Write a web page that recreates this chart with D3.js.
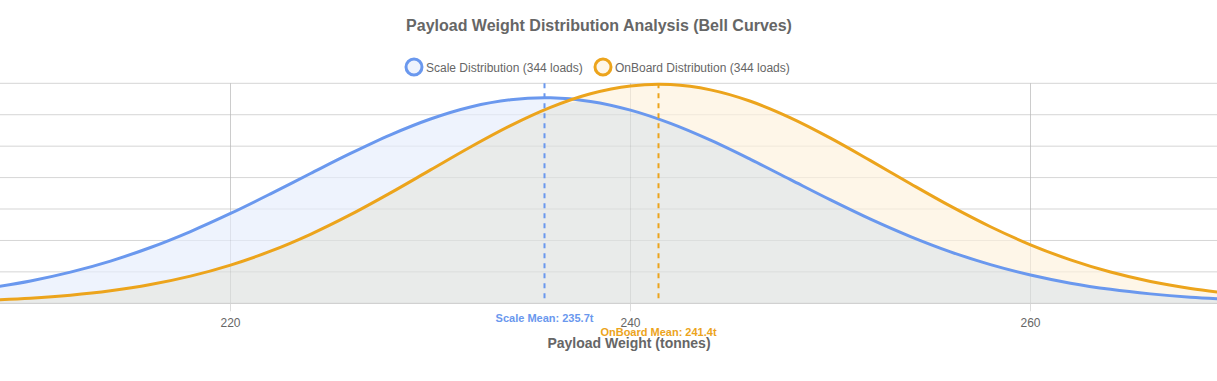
<!DOCTYPE html>
<html lang="en">
<head>
  <meta charset="utf-8">
  <title>Payload Weight Distribution Analysis</title>
  <script src="https://d3js.org/d3.v7.min.js"></script>
  <style>
    body { margin: 0; background: #fff; }
    svg { display: block; font-family: "Helvetica Neue", Helvetica, Arial, "Liberation Sans", sans-serif; }
  </style>
</head>
<body>
  <svg id="chart" width="1217" height="381"></svg>
  <script>
    // payload weight (tonnes) sample points
    var weights = [208, 210, 212, 214, 216, 218, 220, 222, 224, 226, 228, 230, 232, 234, 236, 238,
                   240, 242, 244, 246, 248, 250, 252, 254, 256, 258, 260, 262, 264, 266, 268, 270];
    // density
    var scaleDensity = [0.00248, 0.00356, 0.00496, 0.00672, 0.00888, 0.01142, 0.01429, 0.01741,
                        0.02065, 0.02384, 0.02680, 0.02932, 0.03123, 0.03238, 0.03269, 0.03212,
                        0.03073, 0.02862, 0.02595, 0.02290, 0.01967, 0.01645, 0.01339, 0.01062,
                        0.00819, 0.00615, 0.00450, 0.00320, 0.00222, 0.00150, 0.00098, 0.00063];
    var onboardDensity = [0.00050, 0.00081, 0.00129, 0.00199, 0.00298, 0.00432, 0.00608, 0.00829,
                          0.01098, 0.01410, 0.01757, 0.02122, 0.02487, 0.02827, 0.03117, 0.03334,
                          0.03458, 0.03479, 0.03395, 0.03214, 0.02951, 0.02628, 0.02270, 0.01902,
                          0.01545, 0.01218, 0.00931, 0.00691, 0.00497, 0.00347, 0.00235, 0.00154];
    var seriesNames = ["Scale Distribution (344 loads)", "OnBoard Distribution (344 loads)"];
    var means = [235.7, 241.4];
    var meanLabels = ["Scale Mean: 235.7t", "OnBoard Mean: 241.4t"];
    var xTicks = [220, 240, 260];
    var yTicks = [0, 0.005, 0.01, 0.015, 0.02, 0.025, 0.03, 0.035];

    var blue = "#6a98ee", orange = "#eca41c";
    var plotLeft = 0, plotRight = 1217, plotTop = 83.3, plotBottom = 303.3;

    var svg = d3.select("#chart");

    var x = d3.scaleLinear().domain([208.475, 269.325]).range([plotLeft, plotRight]);
    var y = d3.scaleLinear().domain([0, 0.035]).range([plotBottom, plotTop]);

    var scalePts = weights.map((w, i) => ({ w: w, v: scaleDensity[i] }));
    var onboardPts = weights.map((w, i) => ({ w: w, v: onboardDensity[i] }));
    var overlapPts = weights.map((w, i) => ({ w: w, v: Math.min(scaleDensity[i], onboardDensity[i]) }));

    svg.append("defs").append("clipPath").attr("id", "plot")
      .append("rect").attr("x", plotLeft).attr("y", plotTop - 5)
      .attr("width", plotRight - plotLeft).attr("height", plotBottom - plotTop + 5);

    // horizontal grid
    svg.append("g")
      .selectAll("line")
      .data(yTicks)
      .enter()
      .append("line")
      .attr("x1", plotLeft).attr("x2", plotRight)
      .attr("y1", d => y(d)).attr("y2", d => y(d))
      .attr("stroke", d => d == 0 ? "#cfcfcf" : "#e3e3e3")
      .attr("stroke-width", 1);

    // vertical grid + ticks
    svg.append("g")
      .selectAll("line")
      .data(xTicks)
      .enter()
      .append("line")
      .attr("x1", d => x(d)).attr("x2", d => x(d))
      .attr("y1", plotTop).attr("y2", plotBottom + 8)
      .attr("stroke", "#dcdcdc");

    var area = d3.area()
      .x(d => x(d.w))
      .y0(y(0))
      .y1(d => y(d.v))
      .curve(d3.curveCatmullRom);

    var line = d3.line()
      .x(d => x(d.w))
      .y(d => y(d.v))
      .curve(d3.curveCatmullRom);

    var plot = svg.append("g").attr("clip-path", "url(#plot)");

    plot.append("path").datum(scalePts).attr("d", area).attr("fill", "#eef3fd");
    plot.append("path").datum(onboardPts).attr("d", area).attr("fill", "#fef6e8");
    plot.append("path").datum(overlapPts).attr("d", area).attr("fill", "#e9ebea");

    // grid lines faintly over fills
    plot.append("g")
      .selectAll("line")
      .data(yTicks.slice(1))
      .enter()
      .append("line")
      .attr("x1", plotLeft).attr("x2", plotRight)
      .attr("y1", d => y(d)).attr("y2", d => y(d))
      .attr("stroke", "rgba(0,0,0,0.06)");
    plot.append("g")
      .selectAll("line")
      .data(xTicks)
      .enter()
      .append("line")
      .attr("x1", d => x(d)).attr("x2", d => x(d))
      .attr("y1", plotTop).attr("y2", plotBottom)
      .attr("stroke", "rgba(0,0,0,0.07)");
    svg.append("line")
      .attr("x1", plotLeft).attr("x2", plotRight)
      .attr("y1", y(0)).attr("y2", y(0))
      .attr("stroke", "#cfcfcf");

    plot.append("path").datum(scalePts).attr("d", line)
      .attr("fill", "none").attr("stroke", blue).attr("stroke-width", 3);
    plot.append("path").datum(onboardPts).attr("d", line)
      .attr("fill", "none").attr("stroke", orange).attr("stroke-width", 3);

    // mean lines
    var colors = [blue, orange];
    svg.append("g")
      .selectAll("line")
      .data(means)
      .enter()
      .append("line")
      .attr("x1", d => x(d)).attr("x2", d => x(d))
      .attr("y1", plotTop).attr("y2", plotBottom)
      .attr("stroke", (d, i) => colors[i])
      .attr("stroke-width", 2)
      .attr("stroke-dasharray", "5,5");

    svg.append("g")
      .selectAll("text")
      .data(meanLabels)
      .enter()
      .append("text")
      .attr("x", (d, i) => x(means[i]))
      .attr("y", (d, i) => i == 0 ? 322 : 336)
      .attr("text-anchor", "middle")
      .attr("font-size", 11)
      .attr("font-weight", "bold")
      .attr("fill", (d, i) => colors[i])
      .text(d => d);

    // x tick labels
    svg.append("g")
      .selectAll("text")
      .data(xTicks)
      .enter()
      .append("text")
      .attr("x", d => x(d))
      .attr("y", 327)
      .attr("text-anchor", "middle")
      .attr("font-size", 12)
      .attr("fill", "#666")
      .text(d => d);

    svg.append("text")
      .attr("x", 629).attr("y", 348)
      .attr("text-anchor", "middle")
      .attr("font-size", 14).attr("font-weight", "bold")
      .attr("fill", "#666")
      .text("Payload Weight (tonnes)");

    // title
    svg.append("text")
      .attr("x", 599).attr("y", 31)
      .attr("text-anchor", "middle")
      .attr("font-size", 16).attr("font-weight", "bold")
      .attr("fill", "#666")
      .text("Payload Weight Distribution Analysis (Bell Curves)");

    // legend
    var legendX = [414, 603];
    var fills = ["#eef3fd", "#fef6e8"];
    var lg = svg.append("g")
      .selectAll("g")
      .data(seriesNames)
      .enter()
      .append("g")
      .attr("transform", (d, i) => "translate(" + legendX[i] + ",67)");
    lg.append("circle")
      .attr("r", 8)
      .attr("fill", (d, i) => fills[i])
      .attr("stroke", (d, i) => colors[i])
      .attr("stroke-width", 3);
    lg.append("text")
      .attr("x", 12).attr("y", 4.5)
      .attr("font-size", 12)
      .attr("fill", "#666")
      .text(d => d);
  </script>
</body>
</html>
